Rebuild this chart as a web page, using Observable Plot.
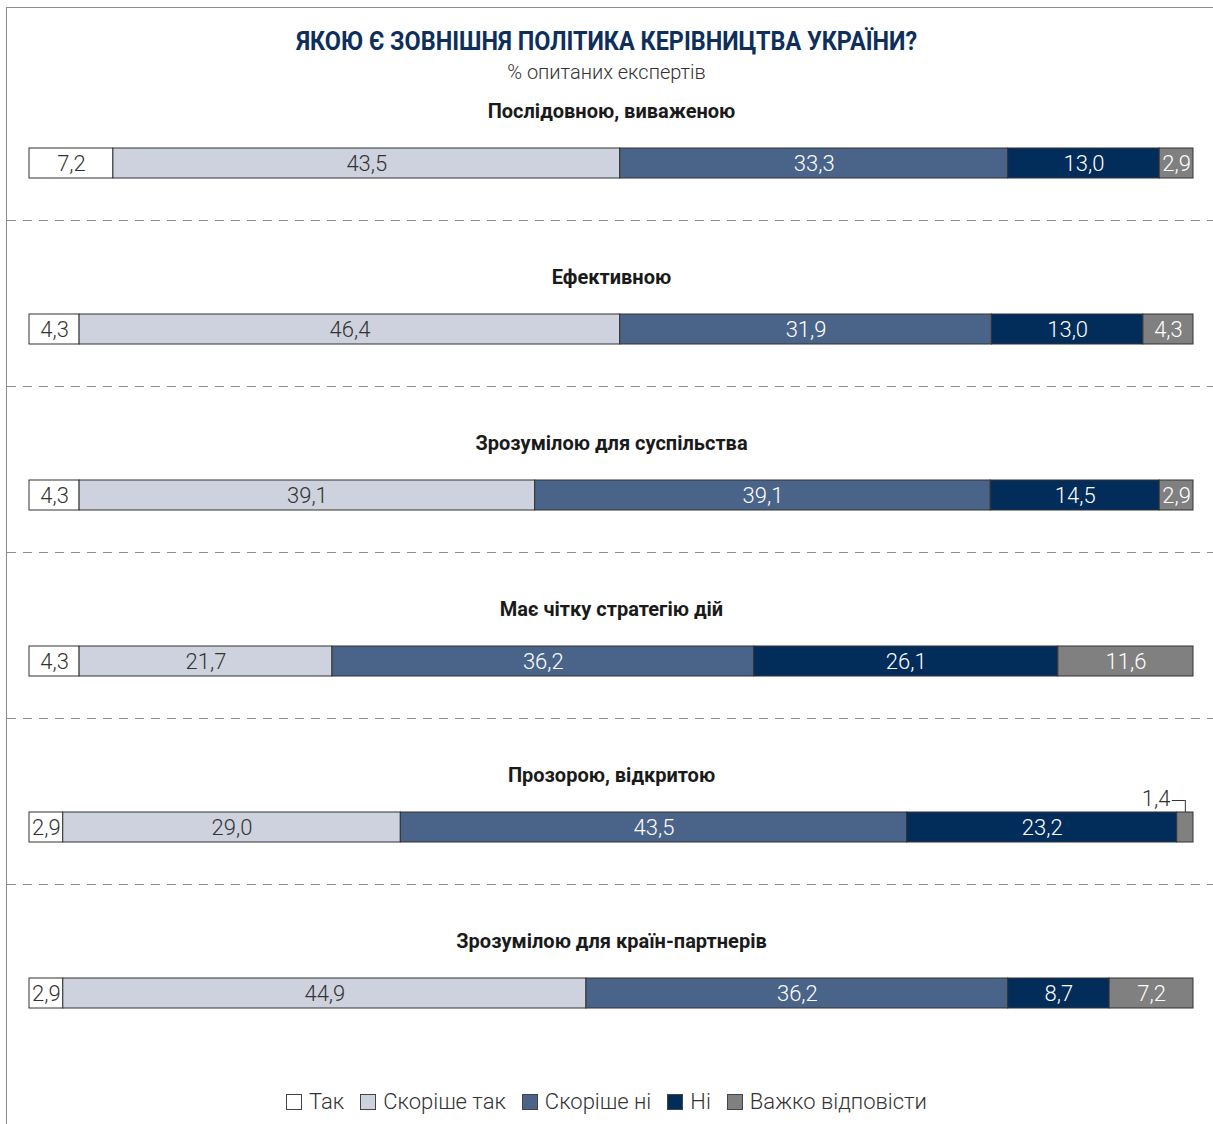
<!DOCTYPE html>
<html><head><meta charset="utf-8">
<script src="https://cdn.jsdelivr.net/npm/d3@7"></script>
<script src="https://cdn.jsdelivr.net/npm/@observablehq/plot@0.6"></script>
<style>
  html,body{margin:0;padding:0;background:#fff;}
  body{width:1213px;height:1124px;position:relative;overflow:hidden;font-family:Roboto,"DejaVu Sans Condensed",sans-serif;}
  #frame{position:absolute;left:6px;top:7px;width:1207px;height:1117px;border-left:1.5px solid #8c8c8c;border-top:1.5px solid #8c8c8c;box-sizing:border-box;}
  #chart{position:absolute;left:0;top:0;}
  #title{position:absolute;left:0;width:1213px;top:26px;text-align:center;font-weight:bold;font-size:26px;color:#0e2e5c;transform:scaleX(0.9);transform-origin:608px 0;}
  #subtitle{position:absolute;left:0;width:1213px;top:60px;text-align:center;font-size:20px;font-weight:300;color:#333;}
  #legend{position:absolute;left:0;width:1213px;top:1089px;text-align:center;font-size:22px;font-weight:300;color:#333;}
  #legend span.item{display:inline-block;margin:0 8px;}
  #legend span.sw{display:inline-block;width:16px;height:16px;border:1px solid #444;margin-right:7px;vertical-align:-1px;box-sizing:border-box;}
</style></head>
<body>
<div id="frame"></div>
<div id="chart"></div>
<div id="title">ЯКОЮ Є ЗОВНІШНЯ ПОЛІТИКА КЕРІВНИЦТВА УКРАЇНИ?</div>
<div id="subtitle">% опитаних експертів</div>
<div id="legend"></div>
<script>
const categories = ["Послідовною, виваженою", "Ефективною", "Зрозумілою для суспільства", "Має чітку стратегію дій", "Прозорою, відкритою", "Зрозумілою для країн-партнерів"];
const responses = ["Так", "Скоріше так", "Скоріше ні", "Ні", "Важко відповісти"];
const colors = ["#ffffff", "#cdd2de", "#4a6489", "#022c5a", "#808080"];
const textColors = ["#333333", "#333333", "#ffffff", "#ffffff", "#ffffff"];
const tak = [7.2, 4.3, 4.3, 4.3, 2.9, 2.9];
const skorisheTak = [43.5, 46.4, 39.1, 21.7, 29.0, 44.9];
const skorisheNi = [33.3, 31.9, 39.1, 36.2, 43.5, 36.2];
const ni = [13.0, 13.0, 14.5, 26.1, 23.2, 8.7];
const vazhko = [2.9, 4.3, 2.9, 11.6, 1.4, 7.2];
const series = [tak, skorisheTak, skorisheNi, ni, vazhko];

const fmt = v => v.toFixed(1).replace(".", ",");
const data = [];
categories.forEach((cat, i) => {
  const total = d3.sum(series, s => s[i]);
  let acc = 0;
  responses.forEach((resp, j) => {
    const v = series[j][i];
    data.push({cat, resp, j, value: v, x1: acc / total, x2: (acc + v) / total, mid: (acc + v / 2) / total});
    acc += v;
  });
});
const lastCat = categories[categories.length - 1];
const small = data.filter(d => d.value < 2);

const W = 1213, H = 1124;
const chart = Plot.plot({
  width: W, height: H,
  margin: 0,
  style: {fontFamily: 'Roboto,"DejaVu Sans Condensed",sans-serif', background: "transparent"},
  x: {domain: [0, 1], range: [29, 1193], axis: null},
  y: {domain: categories, range: [80, 80 + 166 * categories.length], padding: 0, axis: null},
  color: {domain: responses, range: colors},
  marks: [
    Plot.ruleY(categories.filter(c => c !== lastCat), {y: d => d, x1: -22 / 1164, x2: 1184 / 1164, dy: 57, stroke: "#8c8c8c", strokeWidth: 1.2, strokeDasharray: "9,7"}),
    Plot.barX(data, {x1: "x1", x2: "x2", y: "cat", fill: "resp", stroke: "#333", strokeWidth: 1, insetTop: 68, insetBottom: 68}),
    Plot.text(categories, {x: 0.5, y: d => d, text: d => d, dy: -52, fontWeight: "bold", fontSize: 20, fill: "#1a1a1a"}),
    Plot.text(data.filter(d => d.value >= 2), {x: "mid", y: "cat", text: d => fmt(d.value), fill: d => textColors[d.j], fontSize: 22, fontWeight: 300}),
    Plot.text(small, {x: "mid", y: "cat", text: d => fmt(d.value), dy: -29, dx: -15, textAnchor: "end", fill: "#333", fontSize: 22, fontWeight: 300}),
    Plot.ruleY(small, {y: "cat", x1: d => d.mid - 13 / 1164, x2: "mid", dy: -27, stroke: "#333", strokeWidth: 1}),
    Plot.tickX(small, {x: "mid", y: "cat", insetTop: 56, insetBottom: 98, stroke: "#333", strokeWidth: 1})
  ]
});
document.getElementById("chart").appendChild(chart);

const legend = document.getElementById("legend");
responses.forEach((r, j) => {
  const it = document.createElement("span");
  it.className = "item";
  it.innerHTML = `<span class="sw" style="background:${colors[j]}"></span>${r}`;
  legend.appendChild(it);
});
</script>
</body></html>
